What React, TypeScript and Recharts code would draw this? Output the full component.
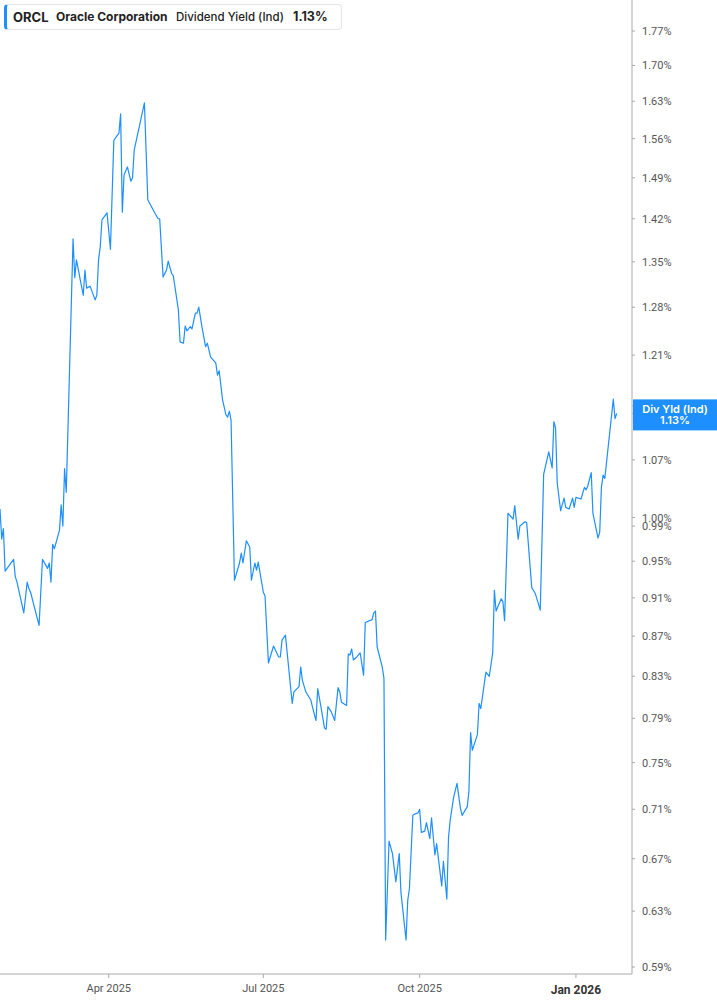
import { LineChart, Line, XAxis, YAxis } from 'recharts';

const DAY_MS = 86400000;
const START = Date.UTC(2025, 0, 27);

// days after 27 Jan 2025
const dayOffsets = [
  0, 1, 2, 3, 8, 9, 10, 14, 16, 17, 18, 23, 25, 28, 29, 30, 31, 32, 35, 36, 37, 38, 39,
  43, 44, 45, 49, 50, 51, 53, 56, 57, 58, 59, 60, 63, 65, 67, 70, 71, 72, 73, 75, 77, 78, 79,
  85, 87, 89, 93, 94, 96, 98, 99, 101, 102, 105, 106, 108, 109, 110, 112, 113, 115, 116, 117,
  119, 121, 122, 124, 127, 128, 129, 131, 133, 134, 135, 136, 138, 141, 142, 143, 145, 147,
  148, 150, 151, 152, 155, 156, 158, 161, 164, 165, 166, 168, 172, 173, 176, 177, 178, 180,
  183, 184, 186, 187, 189, 191, 192, 193, 195, 197, 199, 200, 201, 204, 205, 206, 207, 208,
  210, 212, 214, 215, 219, 220, 221, 222, 225, 226, 227, 229, 231, 233, 235, 236, 239, 240,
  241, 243, 244, 246, 247, 248, 250, 251, 253, 254, 256, 257, 260, 261, 263, 264, 265, 267,
  269, 271, 272, 275, 276, 277, 278, 281, 282, 283, 286, 288, 290, 291, 292, 295, 296, 297,
  299, 302, 303, 305, 306, 309, 310, 313, 315, 318, 320, 323, 325, 326, 327, 328, 330, 332,
  333, 335, 337, 338, 339, 342, 344, 345, 346, 348, 349, 352, 353, 354, 355, 356, 361, 362, 363,
];

// dividend yield (%)
const yieldPct = [
  1.010, 0.975, 0.987, 0.939, 0.952, 0.933, 0.927, 0.894, 0.927, 0.920, 0.916, 0.881, 0.952,
  0.942, 0.948, 0.927, 0.969, 0.964, 0.985, 1.015, 0.990, 1.059, 1.030,
  1.387, 1.325, 1.353, 1.298, 1.337, 1.309, 1.312, 1.291, 1.298, 1.353, 1.374, 1.418, 1.430,
  1.370, 1.557, 1.570, 1.606, 1.431, 1.495, 1.509, 1.484, 1.490, 1.539,
  1.627, 1.452, 1.441, 1.420, 1.420, 1.326, 1.337, 1.351, 1.332, 1.328, 1.276, 1.229, 1.227,
  1.252, 1.245, 1.251, 1.248, 1.271, 1.271, 1.280,
  1.249, 1.222, 1.227, 1.207, 1.199, 1.182, 1.188, 1.148, 1.128, 1.125, 1.133, 1.121, 0.929,
  0.948, 0.959, 0.948, 0.973, 0.966,
  0.929, 0.948, 0.940, 0.949, 0.916, 0.912, 0.843, 0.860, 0.849, 0.849, 0.866, 0.871, 0.804,
  0.815, 0.820, 0.839, 0.826, 0.815,
  0.807, 0.800, 0.788, 0.818, 0.800, 0.781, 0.780, 0.801, 0.796, 0.788, 0.819, 0.815, 0.805,
  0.802, 0.852, 0.851, 0.857, 0.846,
  0.849, 0.853, 0.831, 0.884, 0.887, 0.894, 0.896, 0.859, 0.839, 0.828, 0.609, 0.684, 0.674,
  0.652, 0.674, 0.644, 0.609, 0.638,
  0.647, 0.705, 0.706, 0.707, 0.710, 0.691, 0.692, 0.699, 0.686, 0.703, 0.673, 0.682, 0.649,
  0.668, 0.639, 0.687, 0.701, 0.720,
  0.732, 0.711, 0.705, 0.712, 0.725, 0.777, 0.761, 0.775, 0.804, 0.799, 0.834, 0.830, 0.853,
  0.918, 0.896, 0.909, 0.906, 0.886,
  1.005, 0.998, 1.014, 0.975, 0.990, 0.995, 0.994, 0.921, 0.915, 0.897, 1.052, 1.080, 1.060,
  1.119, 1.111, 1.041, 1.008, 1.023,
  1.012, 1.010, 1.023, 1.012, 1.024, 1.022, 1.036, 1.033, 1.038, 1.054, 1.005, 0.976, 0.983,
  1.036, 1.051, 1.047, 1.149, 1.123, 1.130,
];

const LAST_YIELD = 1.13;
// the last-value tag goes at the end so it is drawn over the 1.14% label
const yTicks = [
  0.59, 0.63, 0.67, 0.71, 0.75, 0.79, 0.83, 0.87, 0.91, 0.95, 0.99, 1.0, 1.07, 1.14, 1.21,
  1.28, 1.35, 1.42, 1.49, 1.56, 1.63, 1.7, 1.77, LAST_YIELD,
];
const xTickDates = [Date.UTC(2025, 3, 1), Date.UTC(2025, 6, 1), Date.UTC(2025, 9, 1), Date.UTC(2026, 0, 1)];
const MONTHS = ['Jan', 'Feb', 'Mar', 'Apr', 'May', 'Jun', 'Jul', 'Aug', 'Sep', 'Oct', 'Nov', 'Dec'];

const BLUE = '#1e8fff';
const TICK_SIZE = 3;
const TICK_MARGIN = 7;

const data = dayOffsets.map((d, i) => ({ t: START + d * DAY_MS, y: yieldPct[i] }));

const DateTick = (props: any) => {
  const { x, y, payload } = props;
  const dt = new Date(payload.value);
  const isYear = dt.getUTCMonth() === 0;
  return (
    <text
      x={x}
      y={y + (isYear ? 12 : 10)}
      textAnchor="middle"
      fill={isYear ? '#333' : '#555'}
      fontSize={isYear ? 12 : 11}
      fontWeight={isYear ? 700 : 400}
      fontFamily="Roboto, sans-serif"
    >
      {`${MONTHS[dt.getUTCMonth()]} ${dt.getUTCFullYear()}`}
    </text>
  );
};

const YieldTick = (props: any) => {
  const { x, y, payload } = props;
  if (payload.value === LAST_YIELD) {
    // tag box starts right at the axis line
    const left = x - TICK_SIZE - TICK_MARGIN + 1;
    return (
      <g>
        <rect x={left} y={y - 14} width={85} height={31} fill={BLUE} />
        <text x={left + 42} y={y} textAnchor="middle" fill="#fff" fontSize={11} fontWeight={600} fontFamily="Inter, sans-serif">
          Div Yld (Ind)
        </text>
        <text x={left + 42} y={y + 11} textAnchor="middle" fill="#fff" fontSize={11} fontWeight={600} fontFamily="Inter, sans-serif">
          {LAST_YIELD.toFixed(2)}%
        </text>
      </g>
    );
  }
  return (
    <text x={x} y={y + 4} textAnchor="start" fill="#555" fontSize={11} fontFamily="Roboto, sans-serif">
      {`${payload.value.toFixed(2)}%`}
    </text>
  );
};

export default function App() {
  return (
    <div style={{ position: 'absolute', left: 0, top: 0, width: 717, height: 1005, background: '#fff' }}>
      <LineChart width={717} height={1005} data={data} margin={{ top: 0, right: 0, bottom: 0, left: 0 }}>
        <XAxis
          dataKey="t"
          type="number"
          domain={[START, START + 372 * DAY_MS]}
          allowDataOverflow
          ticks={xTickDates}
          tick={<DateTick />}
          height={31}
          stroke="#aaa"
          tickSize={4}
          tickMargin={4}
          interval={0}
        />
        <YAxis
          orientation="right"
          scale="log"
          domain={[0.5852, 1.8357]}
          allowDataOverflow
          ticks={yTicks}
          interval={0}
          width={85}
          stroke="#aaa"
          tickSize={TICK_SIZE}
          tickMargin={TICK_MARGIN}
          tick={<YieldTick />}
        />
        <Line
          type="linear"
          dataKey="y"
          stroke={BLUE}
          strokeWidth={1.2}
          strokeLinejoin="round"
          dot={false}
          activeDot={false}
          isAnimationActive={false}
        />
      </LineChart>
      <div
        style={{
          position: 'absolute',
          left: 4,
          top: 4,
          width: 338,
          height: 26,
          boxSizing: 'border-box',
          border: '1px solid #e6e6e6',
          borderLeft: `3px solid ${BLUE}`,
          borderRadius: 4,
          background: '#fff',
          fontFamily: 'Inter, sans-serif',
          fontSize: 12,
          color: '#222',
          lineHeight: '24px',
          whiteSpace: 'nowrap',
        }}
      >
        <span style={{ position: 'absolute', left: 6, fontWeight: 700, fontSize: 13 }}>ORCL</span>
        <span style={{ position: 'absolute', left: 49, fontWeight: 700 }}>Oracle Corporation</span>
        <span style={{ position: 'absolute', left: 169, fontWeight: 500, fontSize: 11.5 }}>Dividend Yield (Ind)</span>
        <span style={{ position: 'absolute', left: 286, fontWeight: 700, fontSize: 12.5 }}>1.13%</span>
      </div>
    </div>
  );
}
